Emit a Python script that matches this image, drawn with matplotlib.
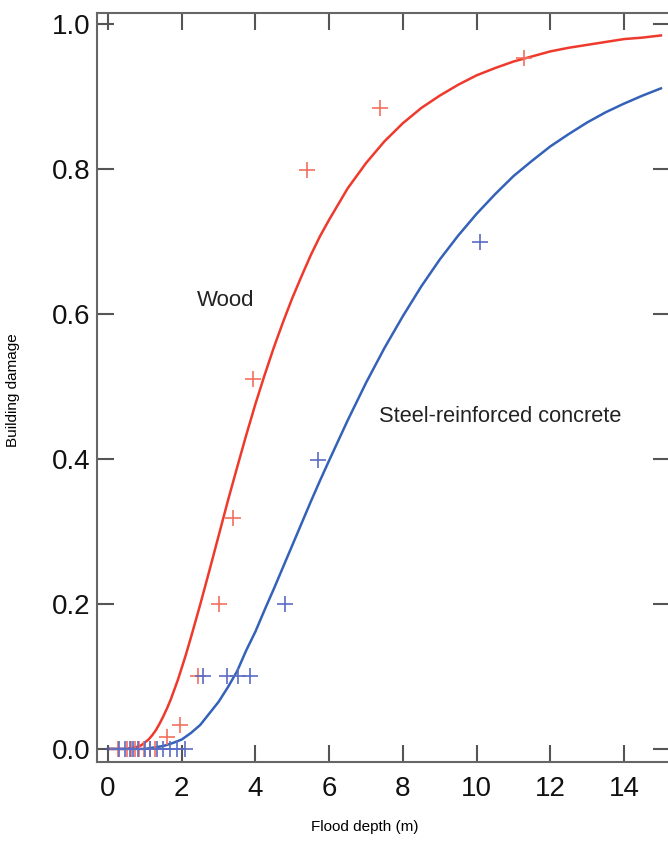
import matplotlib
matplotlib.use("Agg")
import matplotlib.pyplot as plt

plt.rcParams['font.family'] = ['Liberation Sans', 'DejaVu Sans']

# observed damage, wood buildings
wood_x = [0.27, 0.52, 0.62, 0.73, 0.84, 0.98, 1.14, 1.28, 1.60, 1.95,
          2.44, 3.01, 3.39, 3.93, 5.40, 7.38, 11.29]
wood_y = [0, 0, 0, 0, 0, 0, 0, 0, 0.017, 0.033,
          0.101, 0.200, 0.319, 0.510, 0.799, 0.884, 0.953]

# observed damage, steel-reinforced concrete
rc_x = [0.30, 0.46, 0.60, 0.68, 0.81, 1.00, 1.14, 1.33, 1.49, 1.68, 1.87, 2.09,
        2.58, 3.24, 3.53, 3.85, 4.80, 5.70, 10.09]
rc_y = [0, 0, 0, 0, 0, 0, 0, 0, 0, 0, 0, 0,
        0.101, 0.101, 0.101, 0.101, 0.200, 0.399, 0.699]

# fitted curves
wood_curve_x = [0, 0.5, 0.8, 0.9, 1.0, 1.1, 1.2, 1.3, 1.4, 1.5, 1.6, 1.7, 1.8, 1.9,
                2.0, 2.1, 2.25, 2.5, 2.75, 3.0, 3.25, 3.5, 3.75, 4.0, 4.25, 4.5, 4.75,
                5.0, 5.25, 5.5, 5.75, 6.0, 6.5, 7.0, 7.5, 8.0, 8.5, 9.0, 9.5, 10,
                10.5, 11, 11.5, 12, 12.5, 13, 13.5, 14, 14.5, 15]
wood_curve_y = [0, 0, 0.003, 0.005, 0.009, 0.013, 0.019, 0.026, 0.035, 0.045, 0.056,
                0.068, 0.082, 0.096, 0.112, 0.128, 0.154, 0.199, 0.246, 0.294, 0.342,
                0.388, 0.433, 0.476, 0.516, 0.554, 0.589, 0.622, 0.652, 0.681, 0.707,
                0.730, 0.773, 0.808, 0.838, 0.863, 0.884, 0.901, 0.916, 0.929, 0.939,
                0.948, 0.955, 0.962, 0.967, 0.971, 0.975, 0.979, 0.981, 0.984]

rc_curve_x = [0, 1.0, 1.5, 1.75, 2.0, 2.25, 2.5, 2.75, 3.0, 3.25, 3.5, 3.75, 4.0,
              4.25, 4.5, 4.75, 5.0, 5.25, 5.5, 5.75, 6.0, 6.5, 7.0, 7.5, 8.0, 8.5,
              9.0, 9.5, 10, 10.5, 11, 11.5, 12, 12.5, 13, 13.5, 14, 14.5, 15]
rc_curve_y = [0, 0, 0.004, 0.008, 0.013, 0.022, 0.033, 0.049, 0.065, 0.085, 0.107,
              0.136, 0.162, 0.192, 0.221, 0.251, 0.281, 0.311, 0.341, 0.370, 0.398,
              0.453, 0.505, 0.553, 0.597, 0.638, 0.675, 0.708, 0.738, 0.765, 0.790,
              0.811, 0.831, 0.848, 0.864, 0.878, 0.890, 0.901, 0.911]

fig = plt.figure(figsize=(6.68, 8.47), dpi=100)
ax = fig.add_axes([0.1452, 0.1004, 0.858, 0.8843])

ax.plot(wood_curve_x, wood_curve_y, color='#ee3a2c', lw=1.8, zorder=3)
ax.plot(rc_curve_x, rc_curve_y, color='#3462b8', lw=1.8, zorder=3)
ax.plot(wood_x, wood_y, ls='none', marker='+', ms=11.5, mew=1.2, color='#f2705e', zorder=4)
ax.plot(rc_x, rc_y, ls='none', marker='+', ms=11.5, mew=1.2, color='#5a6cc4', zorder=4)

ax.text(2.41, 0.619, 'Wood', fontsize=16, va='center', ha='left', color='#222222')
ax.text(7.35, 0.458, 'Steel-reinforced concrete', fontsize=15.7, va='center', ha='left',
        color='#222222')

ax.set_xlim(-0.3, 15.25)
ax.set_ylim(-0.018, 1.015)
ax.set_xticks(range(0, 15, 2))
ax.set_yticks([0.0, 0.2, 0.4, 0.6, 0.8, 1.0])
ax.set_yticklabels(['0.0', '0.2', '0.4', '0.6', '0.8', '1.0'])

for s in ax.spines.values():
    s.set_color('#666666')
    s.set_linewidth(1.5)
ax.tick_params(direction='in', length=12, width=1.5, color='#555555',
               top=True, right=True, labelsize=20, labelcolor='#111111')
ax.tick_params(axis='x', pad=10)
ax.tick_params(axis='y', pad=5)

ax.set_xlabel('Flood depth (m)', fontsize=11)
ax.set_ylabel('Building damage', fontsize=11)
ax.xaxis.set_label_coords(0.468, -0.078)
ax.yaxis.set_label_coords(-0.134, 0.497)

fig.savefig('out.png', dpi=100)
